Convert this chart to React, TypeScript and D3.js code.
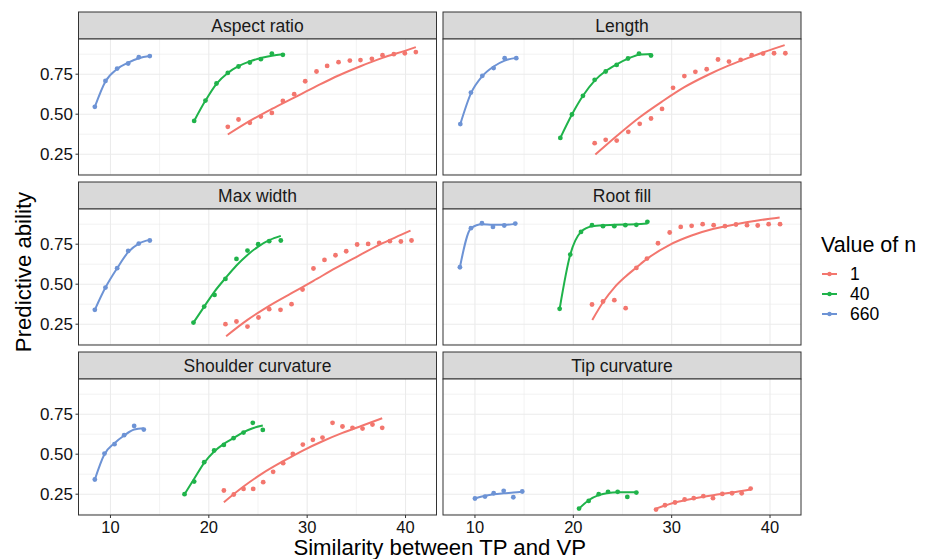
import React from 'react'
import * as d3 from 'd3'

const panelNames = ['Aspect ratio', 'Length', 'Max width', 'Root fill', 'Shoulder curvature', 'Tip curvature'];
const nValues = ['1', '40', '660'];
const nColors = ['#F3766E', '#1FB34A', '#6D93D5'];
const xTicks = [10, 20, 30, 40];
const yTicks = [0.25, 0.5, 0.75];

// observed points: [similarity, predictive ability]
const aspectN1 = [[21.93,0.421],[23.02,0.467],[24.17,0.446],[25.29,0.485],[26.41,0.508],[27.53,0.583],[28.68,0.625],[29.80,0.706],[30.95,0.767],[32.03,0.802],[33.19,0.825],[34.34,0.835],[35.42,0.838],[36.58,0.846],[37.66,0.869],[38.81,0.875],[39.93,0.881],[41.05,0.888]];
const aspectN40 = [[18.51,0.458],[19.66,0.585],[20.78,0.692],[21.93,0.758],[23.02,0.798],[24.17,0.823],[25.29,0.844],[26.41,0.879],[27.53,0.871]];
const aspectN660 = [[8.41,0.546],[9.49,0.708],[10.68,0.785],[11.80,0.817],[12.88,0.856],[14.0,0.863]];
const lengthN1 = [[22.17,0.319],[23.29,0.340],[24.41,0.335],[25.59,0.390],[26.75,0.440],[27.90,0.473],[29.02,0.533],[30.14,0.665],[31.29,0.738],[32.41,0.765],[33.56,0.781],[34.71,0.842],[35.83,0.829],[37.02,0.840],[38.14,0.869],[39.29,0.879],[40.41,0.881],[41.56,0.881]];
const lengthN40 = [[18.68,0.352],[19.86,0.498],[20.98,0.615],[22.17,0.715],[23.29,0.767],[24.41,0.808],[25.56,0.848],[26.68,0.879],[27.90,0.867]];
const lengthN660 = [[8.51,0.438],[9.59,0.635],[10.75,0.740],[11.90,0.788],[13.02,0.850],[14.20,0.850]];
const maxN1 = [[21.69,0.25],[22.81,0.267],[23.93,0.235],[25.05,0.292],[26.14,0.344],[27.29,0.340],[28.41,0.375],[29.53,0.467],[30.64,0.598],[31.76,0.652],[32.88,0.681],[33.97,0.706],[35.08,0.748],[36.20,0.752],[37.32,0.758],[38.41,0.769],[39.53,0.767],[40.61,0.773]];
const maxN40 = [[18.44,0.260],[19.53,0.360],[20.58,0.433],[21.69,0.533],[22.81,0.658],[23.93,0.710],[25.02,0.750],[26.14,0.769],[27.32,0.773]];
const maxN660 = [[8.41,0.340],[9.49,0.479],[10.68,0.600],[11.80,0.708],[12.88,0.754],[14.0,0.773]];
const rootN1 = [[21.90,0.373],[23.02,0.392],[24.17,0.40],[25.32,0.35],[26.41,0.602],[27.49,0.660],[28.61,0.756],[29.80,0.823],[30.92,0.858],[32.03,0.865],[33.15,0.875],[34.27,0.869],[35.42,0.8625],[36.54,0.873],[37.66,0.869],[38.75,0.867],[39.86,0.875],[41.02,0.875]];
const rootN40 = [[18.61,0.346],[19.69,0.685],[20.78,0.827],[21.90,0.869],[23.02,0.8625],[24.17,0.8625],[25.29,0.869],[26.41,0.871],[27.53,0.89]];
const rootN660 = [[8.47,0.606],[9.59,0.85],[10.71,0.881],[11.83,0.858],[12.98,0.867],[14.10,0.879]];
const shoulderN1 = [[21.53,0.273],[22.54,0.248],[23.53,0.283],[24.51,0.283],[25.53,0.325],[26.54,0.390],[27.56,0.444],[28.54,0.502],[29.56,0.560],[30.58,0.590],[31.56,0.604],[32.58,0.696],[33.59,0.673],[34.61,0.665],[35.63,0.660],[36.64,0.685],[37.63,0.665]];
const shoulderN40 = [[17.53,0.25],[18.51,0.329],[19.53,0.45],[20.54,0.523],[21.53,0.558],[22.51,0.60],[23.53,0.635],[24.47,0.696],[25.49,0.652]];
const shoulderN660 = [[8.41,0.342],[9.39,0.504],[10.41,0.5625],[11.39,0.619],[12.41,0.677],[13.39,0.654]];
const tipN1 = [[28.41,0.154],[29.32,0.181],[30.34,0.198],[31.32,0.217],[32.24,0.225],[33.22,0.2375],[34.2,0.225],[35.15,0.252],[36.14,0.256],[37.12,0.256],[38.03,0.285]];
const tipN40 = [[20.58,0.160],[21.56,0.208],[22.58,0.25],[23.53,0.265],[24.51,0.265],[25.49,0.233],[26.41,0.260]];
const tipN660 = [[10.0,0.223],[11.02,0.235],[11.90,0.256],[12.92,0.271],[13.90,0.231],[14.81,0.267]];

// fitted curves
const aspectFit1 = [[21.93,0.373],[24.17,0.458],[26.41,0.533],[28.68,0.604],[30.95,0.675],[33.19,0.742],[35.42,0.80],[37.66,0.852],[39.93,0.896],[41.05,0.919]];
const aspectFit40 = [[18.51,0.458],[19.66,0.585],[20.78,0.69],[21.93,0.758],[23.02,0.80],[24.17,0.83],[25.29,0.851],[26.41,0.866],[27.53,0.874]];
const aspectFit660 = [[8.41,0.546],[9.49,0.705],[10.68,0.783],[11.80,0.822],[12.88,0.850],[14.0,0.864]];
const lengthFit1 = [[22.24,0.248],[24.47,0.367],[26.75,0.481],[29.02,0.579],[31.29,0.669],[33.56,0.742],[35.83,0.805],[38.14,0.86],[40.41,0.91],[41.49,0.932]];
const lengthFit40 = [[18.68,0.352],[19.86,0.498],[20.98,0.615],[22.17,0.71],[23.29,0.77],[24.41,0.812],[25.56,0.847],[26.68,0.872],[27.90,0.877]];
const lengthFit660 = [[8.51,0.438],[9.59,0.63],[10.75,0.738],[11.90,0.798],[13.02,0.835],[14.20,0.852]];
const maxFit1 = [[21.76,0.175],[23.93,0.277],[26.14,0.365],[28.41,0.444],[30.64,0.521],[32.88,0.6],[35.08,0.673],[37.32,0.746],[39.53,0.808],[40.51,0.835]];
const maxFit40 = [[18.44,0.26],[19.53,0.36],[20.58,0.454],[21.69,0.5375],[22.81,0.617],[23.93,0.683],[25.02,0.735],[26.14,0.775],[27.32,0.802]];
const maxFit660 = [[8.41,0.340],[9.49,0.479],[10.68,0.6],[11.80,0.7],[12.88,0.754],[14.0,0.777]];
const rootFit1 = [[21.93,0.277],[23.02,0.3875],[24.17,0.479],[25.32,0.548],[26.41,0.604],[27.49,0.658],[29.80,0.746],[32.03,0.804],[34.27,0.846],[36.54,0.875],[38.75,0.898],[40.98,0.917]];
const rootFit40 = [[18.61,0.346],[19.69,0.685],[20.78,0.827],[21.90,0.862],[23.02,0.869],[24.17,0.871],[25.29,0.873],[26.41,0.875],[27.53,0.879]];
const rootFit660 = [[8.47,0.606],[9.59,0.85],[10.71,0.875],[11.83,0.871],[12.98,0.871],[14.10,0.877]];
const shoulderFit1 = [[21.53,0.20],[23.53,0.298],[25.53,0.383],[27.56,0.456],[29.56,0.523],[31.56,0.581],[33.59,0.633],[35.63,0.679],[37.63,0.725]];
const shoulderFit40 = [[17.53,0.25],[18.51,0.346],[19.53,0.446],[20.54,0.517],[21.53,0.565],[22.51,0.60],[23.53,0.6375],[24.47,0.6625],[25.49,0.679]];
const shoulderFit660 = [[8.41,0.342],[9.39,0.50],[10.41,0.569],[11.39,0.617],[12.41,0.654],[13.39,0.6625]];
const tipFit1 = [[28.41,0.16],[30.34,0.198],[32.24,0.223],[34.2,0.244],[36.14,0.26],[38.03,0.279]];
const tipFit40 = [[20.58,0.16],[21.56,0.2125],[22.58,0.244],[23.53,0.258],[24.51,0.2625],[25.49,0.2625],[26.41,0.2625]];
const tipFit660 = [[10.0,0.223],[11.02,0.24],[11.90,0.25],[12.92,0.256],[13.90,0.26],[14.81,0.265]];

const pointSets = [
  [aspectN1, aspectN40, aspectN660],
  [lengthN1, lengthN40, lengthN660],
  [maxN1, maxN40, maxN660],
  [rootN1, rootN40, rootN660],
  [shoulderN1, shoulderN40, shoulderN660],
  [tipN1, tipN40, tipN660],
];
const fitSets = [
  [aspectFit1, aspectFit40, aspectFit660],
  [lengthFit1, lengthFit40, lengthFit660],
  [maxFit1, maxFit40, maxFit660],
  [rootFit1, rootFit40, rootFit660],
  [shoulderFit1, shoulderFit40, shoulderFit660],
  [tipFit1, tipFit40, tipFit660],
];

const font = '"Liberation Sans", Arial, Helvetica, sans-serif';
const colLeft = [78.5, 443];
const panelW = 358;
const stripH = 27;
const panelH = 136;
const rowTop = (r: number) => 12 + 170 * r;

const x = d3.scaleLinear().domain([6.75, 43.15]).range([0, panelW]);
const y = d3.scaleLinear().domain([0.12, 0.97]).range([panelH, 0]);
const xMinor = x.ticks(8).filter(v => v % 10 !== 0);
const yStep = yTicks[1] - yTicks[0];
const yMinor = d3.range(yTicks[0] - yStep / 2, 1, yStep).filter(v => v >= y.domain()[0] && v <= y.domain()[1]);
const line = d3.line<number[]>().x(d => x(d[0])).y(d => y(d[1])).curve(d3.curveMonotoneX);

function Panel({ i }: { i: number }) {
  const col = i % 2;
  const row = Math.floor(i / 2);
  const left = colLeft[col];
  const top = rowTop(row);
  const pTop = top + stripH;
  return (
    <g>
      <rect x={left} y={top} width={panelW} height={stripH} fill="#D9D9D9" stroke="#333" strokeWidth={1} />
      <text x={left + panelW / 2} y={top + stripH / 2} dy="0.35em" textAnchor="middle" fontSize={17.5} fill="#1a1a1a">{panelNames[i]}</text>
      <g transform={`translate(${left},${pTop})`}>
        <rect width={panelW} height={panelH} fill="#fff" />
        {xMinor.map(v => <line key={'xm' + v} x1={x(v)} x2={x(v)} y1={0} y2={panelH} stroke="#EBEBEB" strokeWidth={0.6} />)}
        {yMinor.map(v => <line key={'ym' + v} x1={0} x2={panelW} y1={y(v)} y2={y(v)} stroke="#EBEBEB" strokeWidth={0.6} />)}
        {xTicks.map(v => <line key={'x' + v} x1={x(v)} x2={x(v)} y1={0} y2={panelH} stroke="#EBEBEB" strokeWidth={1.1} />)}
        {yTicks.map(v => <line key={'y' + v} x1={0} x2={panelW} y1={y(v)} y2={y(v)} stroke="#EBEBEB" strokeWidth={1.1} />)}
        {fitSets[i].map((f, k) => (
          <path key={'f' + k} d={line(f as number[][]) || ''} fill="none" stroke={nColors[k]} strokeWidth={2} />
        ))}
        {pointSets[i].map((pts, k) => pts.map((p, j) => (
          <circle key={'p' + k + '-' + j} cx={x(p[0])} cy={y(p[1])} r={2.4} fill={nColors[k]} />
        )))}
        <rect width={panelW} height={panelH} fill="none" stroke="#333" strokeWidth={1} />
        {col === 0 && yTicks.map(v => (
          <g key={'yt' + v}>
            <line x1={-3} x2={0} y1={y(v)} y2={y(v)} stroke="#333" />
            <text x={-5.5} y={y(v)} dy="0.35em" textAnchor="end" fontSize={17} fill="#111">{d3.format('.2f')(v)}</text>
          </g>
        ))}
        {row === 2 && xTicks.map(v => (
          <g key={'xt' + v}>
            <line x1={x(v)} x2={x(v)} y1={panelH} y2={panelH + 3} stroke="#333" />
            <text x={x(v)} y={panelH + 17.5} textAnchor="middle" fontSize={16.5} fill="#111">{v}</text>
          </g>
        ))}
      </g>
    </g>
  );
}

export default function App() {
  return (
    <svg width={933} height={559} style={{ position: 'absolute', left: 0, top: 0, background: '#fff' }} fontFamily={font}>
      <rect width={933} height={559} fill="#fff" />
      {panelNames.map((_, i) => <Panel key={i} i={i} />)}
      <text x={(colLeft[0] + colLeft[1] + panelW) / 2} y={555} textAnchor="middle" fontSize={22.2} fill="#000">Similarity between TP and VP</text>
      <text transform="translate(31,272) rotate(-90)" textAnchor="middle" fontSize={22.2} fill="#000">Predictive ability</text>
      <g transform="translate(821,0)">
        <text x={0} y={252} fontSize={21.5} fill="#000">Value of n</text>
        {nValues.map((v, k) => (
          <g key={v} transform={`translate(0,${274 + k * 20})`}>
            <line x1={1} x2={16} y1={0} y2={0} stroke={nColors[k]} strokeWidth={2} />
            <circle cx={8.5} cy={0} r={2.2} fill={nColors[k]} />
            <text x={29} y={0} dy="0.35em" fontSize={17.5} fill="#000">{v}</text>
          </g>
        ))}
      </g>
    </svg>
  );
}
